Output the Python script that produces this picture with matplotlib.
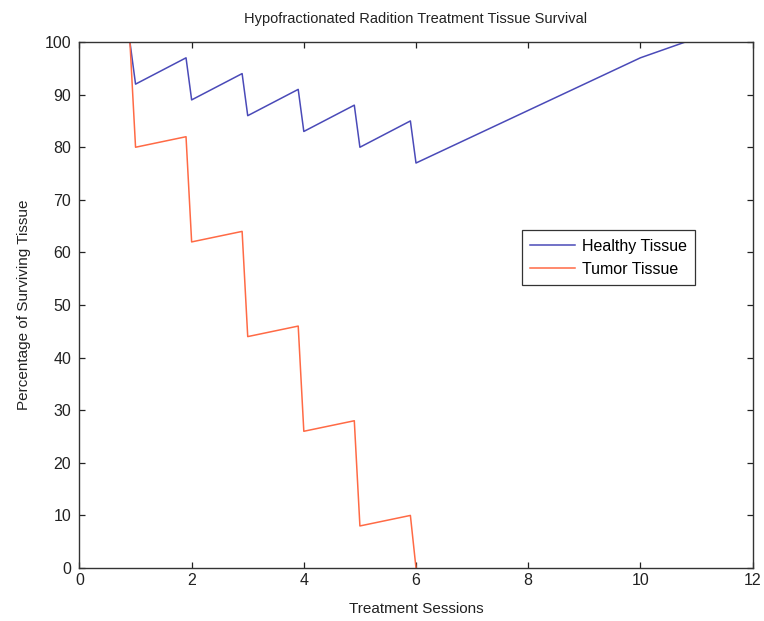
import matplotlib
matplotlib.use("Agg")
import matplotlib.pyplot as plt

plt.rcParams['font.family'] = ['Liberation Sans', 'DejaVu Sans']

# Healthy tissue: -8 per session, +5 regrowth between sessions
healthy_x = [0.9, 1.0, 1.9, 2.0, 2.9, 3.0, 3.9, 4.0, 4.9, 5.0, 5.9, 6.0,
             7.0, 8.0, 9.0, 10.0, 10.8]
healthy_y = [100, 92, 97, 89, 94, 86, 91, 83, 88, 80, 85, 77,
             82, 87, 92, 97, 100]

# Tumor tissue: -20 per session, +2 regrowth between sessions
tumor_x = [0.9, 1.0, 1.9, 2.0, 2.9, 3.0, 3.9, 4.0, 4.9, 5.0, 5.9, 6.0]
tumor_y = [100, 80, 82, 62, 64, 44, 46, 26, 28, 8, 10, 0]

xticks = [0, 2, 4, 6, 8, 10, 12]
yticks = [0, 10, 20, 30, 40, 50, 60, 70, 80, 90, 100]

fig = plt.figure(figsize=(7.64, 6.21), dpi=100)
ax = fig.add_axes([0.104, 0.0853, 0.881, 0.847])

ax.plot(healthy_x, healthy_y, color='#4a4ab8', lw=1.1, label='Healthy Tissue')
ax.plot(tumor_x, tumor_y, color='#ff6a45', lw=1.1, label='Tumor Tissue')

ax.set_xlim(0, 12)
ax.set_ylim(0, 100)
ax.set_xticks(xticks)
ax.set_yticks(yticks)
ax.tick_params(direction='in', top=True, right=True, length=4, width=0.9,
               labelsize=11.5, colors='#222222')
ax.tick_params(axis='y', pad=6)
for s in ax.spines.values():
    s.set_linewidth(1.0)
    s.set_color('#333333')

ax.set_title('Hypofractionated Radition Treatment Tissue Survival',
             fontsize=10.5, color='#222222', pad=14)
ax.set_xlabel('Treatment Sessions', fontsize=11, color='#222222', labelpad=10)
ax.set_ylabel('Percentage of Surviving Tissue', fontsize=11, color='#222222',
              labelpad=10)

leg = ax.legend(loc='upper left', bbox_to_anchor=(0.657, 0.643),
                borderaxespad=0, fancybox=False, fontsize=11.5,
                handlelength=2.8, handletextpad=0.4, borderpad=0.55,
                labelspacing=0.5, framealpha=1)
leg.get_frame().set_edgecolor('#333333')
leg.get_frame().set_linewidth(0.9)

fig.savefig('out.png', dpi=100)
